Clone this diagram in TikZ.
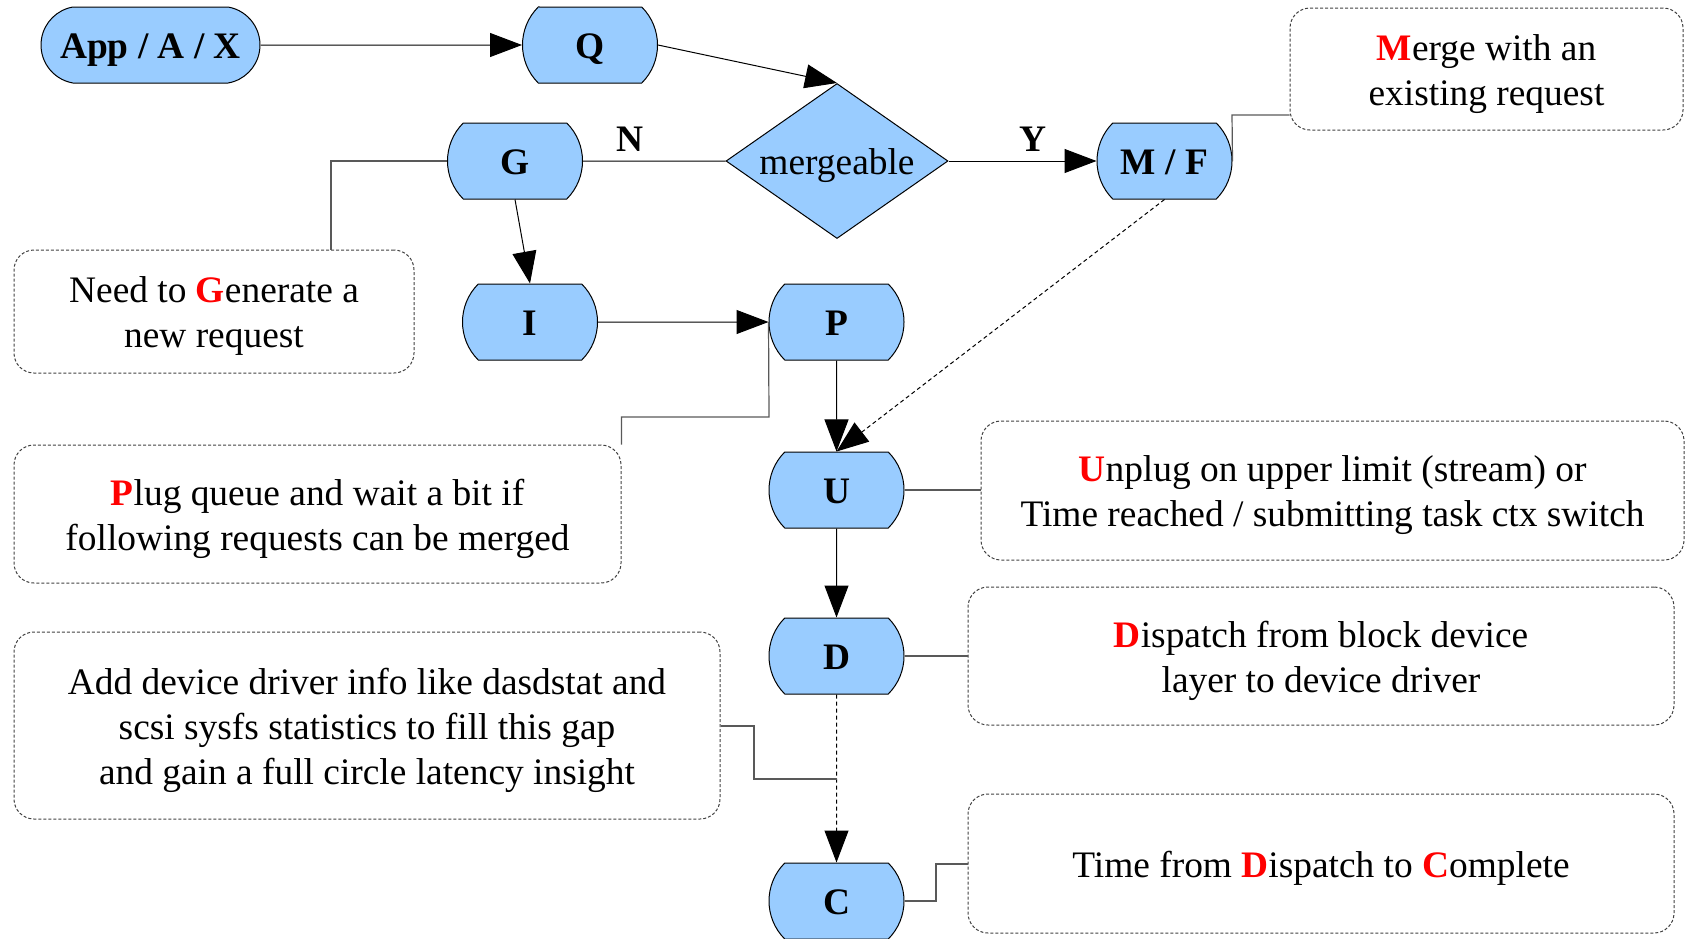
\documentclass[tikz,border=0pt]{standalone}
\usepackage{fontspec}
\setmainfont{Liberation Serif}
\usetikzlibrary{arrows.meta,shapes.geometric,shapes.misc}

\definecolor{boxblue}{HTML}{99CCFF}
\newcommand{\redcap}[1]{\textcolor{red}{\textbf{#1}}}
\newcommand{\linestrut}{\rule[-3.9pt]{0pt}{21.7pt}}

\tikzset{
  stage/.style={rounded rectangle, rounded rectangle arc length=90, draw, line width=0.5pt,
    fill=boxblue, minimum width=67.5pt, minimum height=38pt, inner sep=0pt,
    text height=17.8pt, text depth=3.9pt,
    font=\fontsize{18.7}{22.5}\selectfont\bfseries},
  note/.style={draw=black!75, dash pattern=on 1.5pt off 1pt, line width=0.5pt,
    rounded corners=10pt, align=center, inner sep=0pt,
    font=\fontsize{18.7}{22.5}\selectfont},
  flow/.style={-{Triangle[length=16pt,width=12pt]}, line width=0.5pt},
  callout/.style={draw=black!65, line width=0.6pt},
  lbl/.style={font=\fontsize{18.7}{22.5}\selectfont\bfseries, inner sep=2pt},
}

\begin{document}
\begin{tikzpicture}[x=0.5pt,y=-0.5pt]
    \useasboundingbox (0,0) rectangle (1685,938);

    % Stages
    \node[stage, rounded rectangle arc length=160, minimum width=109.5pt] (app) at (150.5,45) {App / A / X};
    \node[stage] (q) at (590,45) {Q};
    \node[diamond, aspect=1.43, draw, line width=0.5pt, fill=boxblue, minimum width=111pt,
      minimum height=77.5pt, inner sep=0pt, text height=17.8pt, text depth=3.9pt,
      font=\fontsize{18.7}{22.5}\selectfont] (merge) at (837,161) {mergeable};
    \node[stage] (g) at (515,161) {G};
    \node[stage] (mf) at (1164.5,161) {M / F};
    \node[stage] (i) at (530,322) {I};
    \node[stage] (p) at (836.5,322) {P};
    \node[stage] (u) at (836.5,490) {U};
    \node[stage] (d) at (836.5,656) {D};
    \node[stage] (c) at (836.5,901) {C};

    % Notes
    \node[note, minimum width=196.5pt, minimum height=61pt] (mnote) at (1486.5,69)
      {\linestrut\redcap{M}erge with an\\existing request\linestrut};
    \node[note, minimum width=200pt, minimum height=61.5pt] (gnote) at (214,311.5)
      {\linestrut Need to \redcap{G}enerate a\\new request\linestrut};
    \node[note, minimum width=303.5pt, minimum height=69pt] (pnote) at (317.5,514)
      {\linestrut\redcap{P}lug queue and wait a bit if\\following requests can be merged\linestrut};
    \node[note, minimum width=351.5pt, minimum height=69.5pt] (unote) at (1332.5,490.5)
      {\linestrut\redcap{U}nplug on upper limit (stream) or\\Time reached / submitting task ctx switch\linestrut};
    \node[note, minimum width=353pt, minimum height=69pt] (dnote) at (1321,656)
      {\linestrut\redcap{D}ispatch from block device\\layer to device driver\linestrut};
    \node[note, minimum width=353pt, minimum height=93.5pt] (anote) at (367,725.5)
      {\linestrut Add device driver info like dasdstat and\\scsi sysfs statistics to fill this gap\\and gain a full circle latency insight\linestrut};
    \node[note, minimum width=353pt, minimum height=69.5pt] (tnote) at (1321,863.5)
      {\linestrut Time from \redcap{D}ispatch to \redcap{C}omplete\linestrut};

    % Flow
    \draw[flow] (app) -- (q);
    \draw[flow] (q.east) -- (merge.north);
    \draw[line width=0.5pt] (g) -- node[lbl, pos=0.33, above=2.7pt] {N} (merge);
    \draw[flow] (merge) -- node[lbl, pos=0.57, above=2.7pt] {Y} (mf);
    \draw[flow] (g.south) -- (i.north);
    \draw[flow] (i) -- (p);
    \draw[flow] (p) -- (u);
    \draw[flow, dash pattern=on 2pt off 1.5pt] (mf.south) -- (u.north);
    \draw[flow] (u) -- (d);
    \draw[flow, dash pattern=on 2pt off 1.5pt] (d) -- (c);

    % Callout lines
    \coordinate (mbend) at (1232,115);
    \coordinate (gbend) at (331,161);
    \coordinate (pbend) at (769,417);
    \coordinate (abend) at (754,726);
    \coordinate (ajoin) at (836.5,779);
    \coordinate (cbend) at (936,864);
    \draw[callout] (mf.east) -- (mbend) -- (mbend -| mnote.west);
    \draw[callout] (g.west) -- (gbend) -- (gbend |- gnote.north);
    \draw[callout] (p.west) -- (pbend) -- (pbend -| pnote.east) -- (pnote.north east);
    \draw[callout] (u.east) -- (u.east -| unote.west);
    \draw[callout] (d.east) -- (d.east -| dnote.west);
    \draw[callout] (anote.east |- abend) -- (abend) |- (ajoin);
    \draw[callout] (c.east) -| (cbend) -- (cbend -| tnote.west);
\end{tikzpicture}
\end{document}
